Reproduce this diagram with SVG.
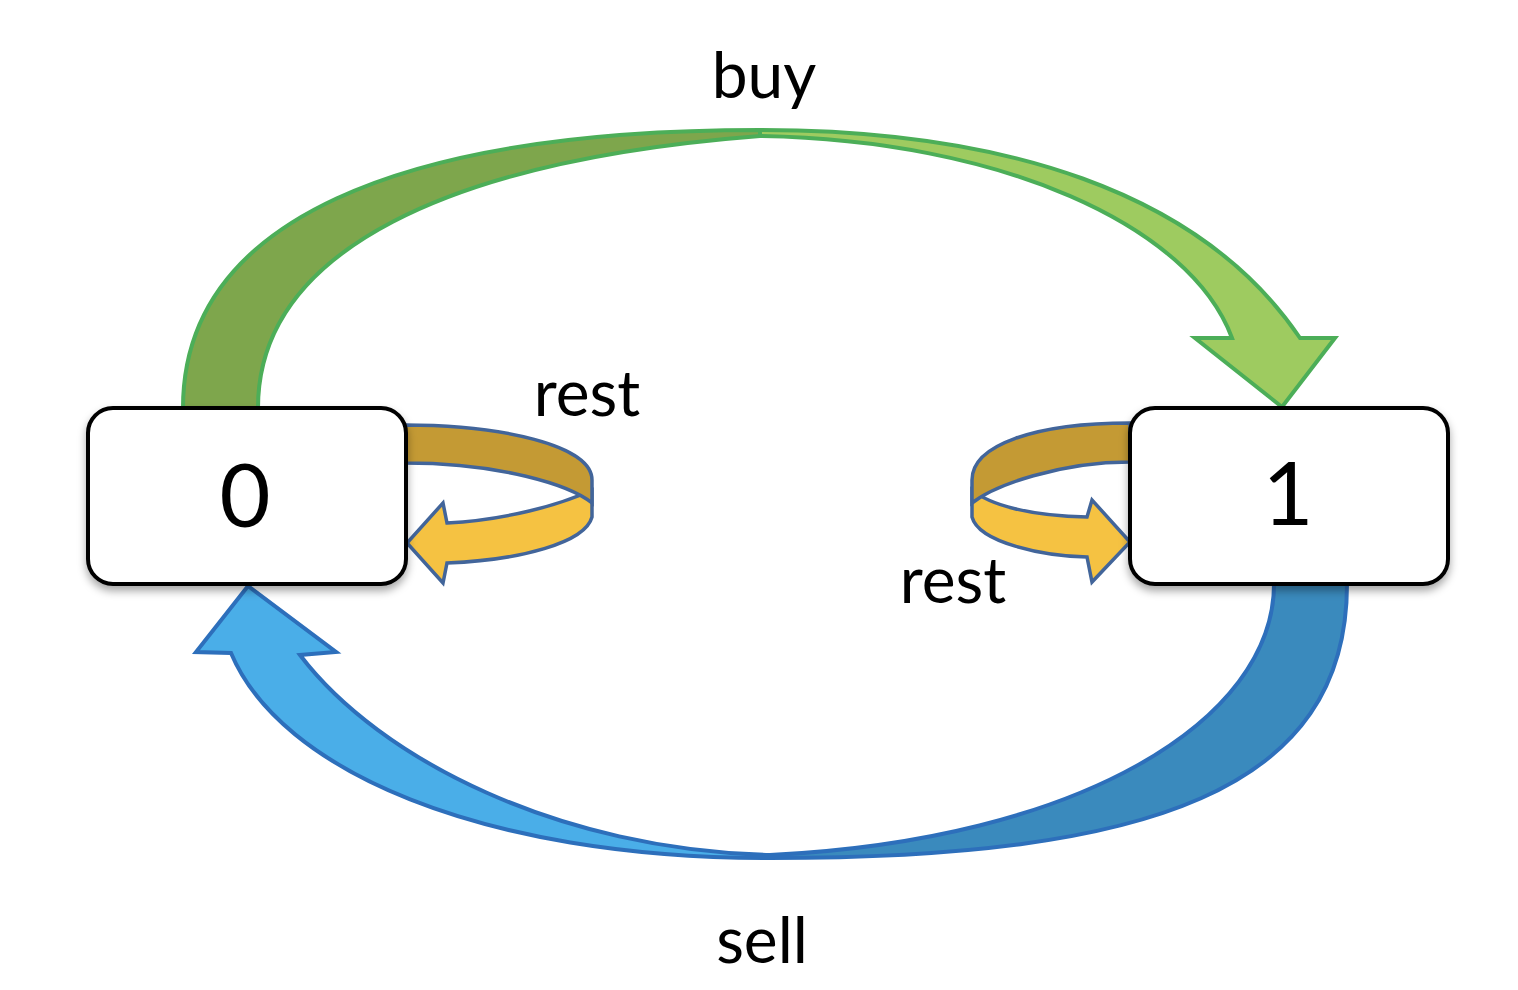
<svg xmlns="http://www.w3.org/2000/svg" width="1518" height="990" viewBox="0 0 1518 990">
<style>
  .lbl { font-family: Lato, "Open Sans", "Liberation Sans", sans-serif; font-size: 64px; fill: #000; text-anchor: middle; }
  .num { font-family: Lato, "Open Sans", "Liberation Sans", sans-serif; font-size: 88px; fill: #000; text-anchor: middle; }
  .box { fill: #fff; stroke: #000; stroke-width: 4; }
  .g { stroke: #4cae58; stroke-width: 4; stroke-linejoin: miter; }
  .b { stroke: #2d6fbb; stroke-width: 4; stroke-linejoin: miter; }
  .y { stroke: #42659a; stroke-width: 3.5; stroke-linejoin: miter; }
</style>
<defs>
  <filter id="shadow" x="-10%" y="-10%" width="120%" height="130%">
    <feDropShadow dx="0" dy="5" stdDeviation="4" flood-color="#000" flood-opacity="0.35"/>
  </filter>
</defs>
<rect width="1518" height="990" fill="#fff"/>
<g id="connectors">
  <g id="buy-arrow">
    <path class="g" fill="#7ea64c" d="M183,408 C183,220 400,130 760,130 L760,136 C450,160 258,250 258,408 Z"/>
    <path class="g" fill="#9ecb60" d="M760,130 C1000,130 1200,190 1300,338 L1335,338 L1282,407 L1195,338 L1232,338 C1190,225 1000,140 760,136 Z"/>
  </g>
  <g id="sell-arrow">
    <path class="b" fill="#3a8abd" d="M1347,584 C1347,790 1150,858 770,858 L770,855 C1080,840 1274,720 1274,584 Z"/>
    <path class="b" fill="#4aaee8" d="M770,858 C480,858 280,770 231,653 L196,652 L248,586 L336,652 L300,655 C380,760 560,850 770,855 Z"/>
  </g>
  <g id="rest0-arrow">
    <path class="y" fill="#f5c242" d="M592,490 L592,517 C585,543 520,560 447,563 L443,583 L407,543 L443,503 L447,523 C505,520 560,505 592,490 Z"/>
    <path class="y" fill="#c49a34" d="M405,425 C500,425 592,445 592,480 L592,503 C570,485 500,463 405,463 Z"/>
  </g>
  <g id="rest1-arrow">
    <path class="y" fill="#f5c242" d="M972,490 L972,517 C979,543 1044,556 1087,557 L1092,582 L1130,542 L1092,500 L1087,517 C1030,516 990,505 972,490 Z"/>
    <path class="y" fill="#c49a34" d="M1130,423 C1035,423 972,445 972,480 L972,503 C995,485 1060,462 1130,462 Z"/>
  </g>
</g>
<g id="node0">
  <rect class="box" x="88" y="408" width="318" height="176" rx="25" ry="25" filter="url(#shadow)"/>
  <text class="num" x="245" y="527">0</text>
</g>
<g id="node1">
  <rect class="box" x="1130" y="408" width="318" height="176" rx="25" ry="25" filter="url(#shadow)"/>
  <text class="num" x="1288" y="525">1</text>
</g>
<g id="labels">
  <text class="lbl" x="764" y="98">buy</text>
  <text class="lbl" x="587" y="416">rest</text>
  <text class="lbl" x="953" y="603">rest</text>
  <text class="lbl" x="762" y="963">sell</text>
</g>
</svg>
